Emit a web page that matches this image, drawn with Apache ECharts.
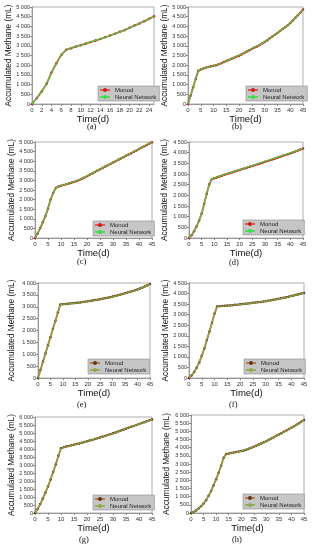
<!DOCTYPE html>
<html>
<head>
<meta charset="utf-8">
<script src="https://cdn.jsdelivr.net/npm/echarts@6/dist/echarts.min.js"></script>
<style>
html,body{margin:0;padding:0;background:#fff;}
#c{width:315px;height:550px;}
</style>
</head>
<body>
<div id="c"></div>
<script>
// ---- data ----
const daysA = [0,1,2,3,4,5,6,7,8,9,10,11,12,13,14,15,16,17,18,19,20,21,22,23,24,25];
const days45 = [0,1,2,3,4,5,6,7,8,9,10,11,12,13,14,15,16,17,18,19,20,21,22,23,24,25,26,27,28,29,30,31,32,33,34,35,36,37,38,39,40,41,42,43,44,45];

const monodA = [0,310,650,1050,1620,2100,2530,2790,2880,2960,3030,3110,3190,3270,3350,3440,3530,3620,3720,3810,3930,4040,4150,4270,4390,4520];
const monodB = [0,430,860,1290,1700,1780,1830,1870,1910,1940,1970,2000,2050,2100,2160,2220,2270,2330,2380,2440,2490,2560,2630,2700,2770,2840,2910,2970,3040,3120,3200,3290,3390,3480,3570,3660,3760,3860,3950,4060,4170,4300,4440,4580,4720,4870];
const monodC = [0,240,520,820,1140,1530,2000,2350,2600,2680,2720,2760,2800,2840,2880,2920,2965,3015,3080,3150,3220,3290,3360,3440,3510,3580,3650,3720,3790,3860,3930,4000,4070,4140,4210,4280,4350,4420,4490,4560,4640,4710,4780,4850,4920,4990];
const monodD = [0,130,320,540,820,1150,1600,2080,2520,2760,2800,2840,2880,2920,2960,3000,3040,3075,3115,3150,3190,3230,3265,3305,3340,3380,3420,3455,3495,3530,3570,3610,3650,3690,3730,3770,3810,3850,3890,3930,3970,4010,4055,4100,4150,4200];
const monodE = [0,340,690,1030,1380,1720,2070,2410,2760,3100,3110,3120,3130,3140,3150,3160,3170,3180,3200,3215,3230,3245,3265,3280,3300,3320,3340,3360,3380,3405,3430,3455,3480,3510,3540,3570,3600,3630,3660,3695,3730,3770,3810,3860,3910,3960];
const monodF = [0,120,280,480,740,1050,1400,1800,2200,2620,3050,3390,3400,3410,3420,3430,3440,3450,3465,3475,3490,3505,3515,3530,3545,3560,3575,3590,3605,3620,3640,3660,3680,3705,3725,3750,3775,3800,3825,3850,3880,3910,3940,3970,4000,4030];
const monodG = [0,250,560,900,1270,1660,2100,2560,3050,3580,4050,4110,4150,4190,4230,4270,4310,4350,4390,4435,4480,4525,4570,4620,4670,4720,4770,4820,4875,4925,4980,5035,5095,5150,5210,5270,5330,5385,5445,5500,5560,5620,5675,5735,5790,5850];
const monodH = [0,60,150,280,420,580,780,1050,1350,1700,2070,2460,2900,3380,3610,3640,3670,3700,3730,3760,3790,3830,3880,3940,3990,4050,4120,4190,4260,4330,4400,4480,4560,4640,4730,4810,4890,4970,5050,5140,5220,5310,5400,5500,5600,5690];

const nnA = [[0,0],[1,320],[2,660],[3,1060],[4,1610],[5,2090],[6,2540],[7,2780],[8,2890],[10,3040],[12,3200],[14,3360],[16,3530],[18,3715],[20,3925],[22,4150],[24,4385],[25,4515]];
const nnB = [[0,0],[1,420],[2,850],[3,1280],[4,1690],[5,1785],[6,1835],[8,1905],[11,2005],[14,2165],[17,2335],[20,2500],[23,2705],[26,2915],[29,3125],[32,3385],[35,3665],[38,3955],[41,4295],[43,4575],[45,4865]];
const nnC = [[0,0],[1,250],[2,530],[3,830],[4,1150],[5,1540],[6,1990],[7,2340],[8,2590],[9,2690],[12,2810],[15,2930],[18,3090],[21,3300],[24,3520],[27,3730],[30,3940],[33,4150],[36,4360],[39,4570],[42,4790],[45,5000]];
const nnD = [[0,0],[1,140],[2,330],[3,550],[4,830],[5,1160],[6,1610],[7,2090],[8,2530],[9,2770],[12,2890],[15,3010],[18,3125],[21,3240],[24,3355],[27,3470],[30,3585],[33,3705],[36,3825],[39,3945],[42,4065],[45,4210]];
const nnE = [[0,0],[1,335],[2,685],[3,1025],[4,1375],[5,1715],[6,2065],[7,2405],[8,2755],[9,3095],[10,3105],[13,3135],[16,3165],[19,3210],[22,3260],[25,3315],[28,3375],[31,3450],[34,3535],[37,3625],[40,3725],[43,3855],[45,3955]];
const nnF = [[0,0],[1,125],[2,285],[3,485],[4,745],[5,1055],[6,1405],[7,1805],[8,2205],[9,2625],[10,3055],[11,3385],[12,3395],[15,3425],[18,3460],[21,3500],[24,3540],[27,3585],[30,3635],[33,3700],[36,3770],[39,3845],[42,3935],[45,4025]];
const nnG = [[0,0],[1,255],[2,565],[3,905],[4,1275],[5,1665],[6,2105],[7,2565],[8,3055],[9,3585],[10,4045],[11,4105],[14,4225],[17,4345],[20,4475],[23,4615],[26,4765],[29,4920],[32,5090],[35,5265],[38,5440],[41,5615],[43,5730],[45,5845]];
const nnH = [[0,0],[1,65],[2,155],[3,285],[4,425],[5,585],[6,785],[7,1055],[8,1355],[9,1705],[10,2075],[11,2465],[12,2905],[13,3385],[14,3605],[17,3695],[20,3785],[23,3935],[26,4115],[29,4325],[32,4555],[35,4805],[38,5045],[41,5305],[43,5495],[45,5685]];

const yMaxes = [5000,5000,5000,4500,4000,4500,6000,6000];
const xMaxes = [25,45,45,45,45,45,45,45];
const xSteps = [2,5,5,5,5,5,5,5];
const panelLabels = ['(a)','(b)','(c)','(d)','(e)','(f)','(g)','(h)'];
const seriesNames = ['Monod','Neural Network'];
const xTitle = 'Time(d)';
const yTitle = 'Accumulated Methane (mL)';

// ---- layout ----
const grids = [
  {l:32,r:154,t:7,b:104},
  {l:188,r:303,t:7,b:104},
  {l:35,r:152,t:142,b:238},
  {l:189,r:303,t:142,b:238},
  {l:38,r:150,t:283,b:378},
  {l:189,r:304,t:283,b:378},
  {l:35,r:152,t:417,b:513},
  {l:191,r:304,t:415,b:513}
];
const yTitleX = [12,165,12,165,12,167,12,167];
const legendBoxes = [
  {x:98,y:86},{x:246,y:86},{x:93,y:221},{x:243,y:220},
  {x:88,y:359},{x:244,y:359},{x:93,y:495},{x:243,y:494}
];
const labelPos = [
  {x:93,y:127},{x:238,y:127},{x:83,y:262},{x:235,y:263},
  {x:83,y:405},{x:235,y:405},{x:85,y:540},{x:238,y:540}
];

const monodSets = [monodA,monodB,monodC,monodD,monodE,monodF,monodG,monodH];
const nnSets = [nnA,nnB,nnC,nnD,nnE,nnF,nnG,nnH];

const fmt = v => v >= 1000 ? Math.floor(v/1000) + ' ' + String(v%1000).padStart(3,'0') : String(v);
const FONT = 'Liberation Sans, Arial, sans-serif';

const option = {
  animation:false,
  backgroundColor:'#fff',
  grid:[], xAxis:[], yAxis:[], series:[], legend:[], graphic:[]
};

for (let i=0;i<8;i++){
  const g = grids[i];
  const warm = i>=4;
  const mCol = warm ? '#b3652e' : '#e8322c';
  const mSym = warm ? '#5b3a14' : '#c8201c';
  const nCol = warm ? '#8ea94c' : '#3edc4a';
  option.grid.push({left:g.l, top:g.t, width:g.r-g.l, height:g.b-g.t, show:true, borderColor:'#9a9a9a', borderWidth:0.8, containLabel:false});
  option.xAxis.push({
    type:'value', gridIndex:i, min:0, max:xMaxes[i], interval:xSteps[i],
    name:xTitle, nameLocation:'middle', nameGap:10,
    nameTextStyle:{fontFamily:FONT,fontSize:9.5,color:'#111'},
    axisLine:{lineStyle:{color:'#888',width:0.8}},
    axisTick:{show:true,length:2,lineStyle:{color:'#888'}},
    splitLine:{show:false},
    axisLabel:{fontFamily:FONT,fontSize:6,color:'#333',margin:3,showMaxLabel: xMaxes[i]%xSteps[i]===0}
  });
  option.yAxis.push({
    type:'value', gridIndex:i, min:0, max:yMaxes[i], interval:500,
    name:yTitle, nameLocation:'middle', nameGap: g.l - yTitleX[i] - 4,
    nameTextStyle:{fontFamily:FONT,fontSize:8.3,color:'#111'},
    axisLine:{show:true,lineStyle:{color:'#888',width:0.8}},
    axisTick:{show:true,length:2,lineStyle:{color:'#888'}},
    splitLine:{show:false},
    axisLabel:{fontFamily:FONT,fontSize:5.5,color:'#333',margin:2,formatter:fmt}
  });
  option.series.push({
    name:seriesNames[0], type:'line', xAxisIndex:i, yAxisIndex:i,
    data: monodSets[i].map((v,k)=>[ (i===0?daysA:days45)[k], v ]),
    symbol:'circle', symbolSize:2.5, showSymbol:true,
    lineStyle:{color:mCol,width:1.8}, itemStyle:{color:mSym,borderWidth:0},
    z:2
  });
  option.series.push({
    name:seriesNames[1], type:'line', xAxisIndex:i, yAxisIndex:i,
    data: nnSets[i], showSymbol:false, symbol:'none',
    lineStyle:{color:nCol,width:1.3,opacity:0.85},
    z:3
  });
  option.legend.push({
    left:legendBoxes[i].x, top:legendBoxes[i].y, orient:'vertical',
    backgroundColor:'#c6c6c6', borderColor:'#8a8a8a', borderWidth:0.6,
    padding:[1,3,1,1], itemGap:1, itemWidth:10, itemHeight:5,
    textStyle:{fontFamily:FONT,fontSize:6,color:'#222'},
    selectedMode:false,
    data:[
      {name:seriesNames[0], itemStyle:{color:mSym}, lineStyle:{color:mCol,width:1.5}},
      {name:seriesNames[1], itemStyle:{color:nCol}, lineStyle:{color:nCol,width:2}}
    ]
  });
  option.graphic.push({
    type:'text', left:labelPos[i].x-6, top:labelPos[i].y-5,
    style:{text:panelLabels[i], font:'8.5px "Liberation Serif", "Times New Roman", serif', fill:'#111'}
  });
}

const chart = echarts.init(document.getElementById('c'), null, {renderer:'canvas'});
chart.setOption(option);
</script>
</body>
</html>
